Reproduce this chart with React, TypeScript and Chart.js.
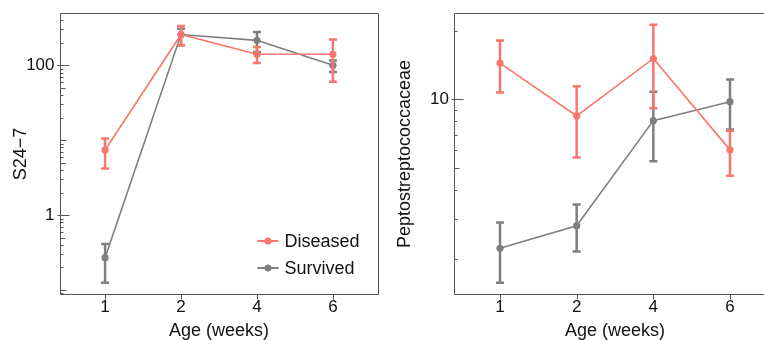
import React, { useEffect, useRef } from 'react';
import { Chart, registerables } from 'chart.js';

Chart.register(...registerables);

// ---- data ----
const weeks = ['1', '2', '4', '6'];
const seriesNames = ['Diseased', 'Survived'];

const s24Diseased = [7.4, 257, 140, 140];
const s24DiseasedLo = [4.2, 185, 107, 60];
const s24DiseasedHi = [10.5, 334, 175, 220];
const s24Survived = [0.27, 257, 215, 100];
const s24SurvivedLo = [0.125, 185, 150, 81.5];
const s24SurvivedHi = [0.41, 308, 278, 116];

const pepDiseased = [14.4, 8.45, 15.1, 6.0];
const pepDiseasedLo = [10.7, 5.55, 9.13, 4.62];
const pepDiseasedHi = [18.1, 11.4, 21.2, 7.28];
const pepSurvived = [2.22, 2.79, 8.06, 9.76];
const pepSurvivedLo = [1.57, 2.15, 5.35, 7.38];
const pepSurvivedHi = [2.88, 3.46, 10.8, 12.2];

const s24TickLabels = [1, 100];
const pepTickLabels = [10];

// ---- style ----
const RED = '#F8766D';
const GRAY = '#7F7F7F';
const AXIS = '#555555';
const FONT = "'Liberation Sans', Arial, Helvetica, sans-serif";

const errorBarPlugin = {
  id: 'errorBars',
  beforeDatasetDraw(chart: any, args: any) {
    const ds = chart.data.datasets[args.index];
    if (!ds.errLo) return;
    const { ctx } = chart;
    const x = chart.scales.x;
    const y = chart.scales.y;
    ctx.save();
    ctx.strokeStyle = ds.borderColor;
    ctx.lineWidth = 2.5;
    ds.data.forEach((pt: any, i: number) => {
      const px = x.getPixelForValue(pt.x);
      const y1 = y.getPixelForValue(ds.errLo[i]);
      const y2 = y.getPixelForValue(ds.errHi[i]);
      ctx.beginPath();
      ctx.moveTo(px, y1);
      ctx.lineTo(px, y2);
      ctx.moveTo(px - 4, y1);
      ctx.lineTo(px + 4, y1);
      ctx.moveTo(px - 4, y2);
      ctx.lineTo(px + 4, y2);
      ctx.stroke();
    });
    ctx.restore();
  },
};

const axesPlugin = {
  id: 'axesBox',
  afterDraw(chart: any) {
    const { ctx, chartArea } = chart;
    const { left, right, top, bottom } = chartArea;
    const x = chart.scales.x;
    const y = chart.scales.y;
    const labeled: number[] = chart.options.plugins.axesBox.labeled;
    ctx.save();
    ctx.strokeStyle = AXIS;
    ctx.lineWidth = 1;
    const L = Math.round(left) + 0.5;
    const R = Math.round(right) - 0.5;
    const T = Math.round(top) + 0.5;
    const B = Math.round(bottom) - 0.5;
    ctx.beginPath();
    ctx.rect(L, T, R - L, B - T);
    ctx.stroke();
    // y ticks
    const min = y.min;
    const max = y.max;
    const d0 = Math.floor(Math.log10(min));
    const d1 = Math.ceil(Math.log10(max));
    ctx.beginPath();
    for (let d = d0; d <= d1; d++) {
      for (let m = 1; m <= 9; m++) {
        const v = m * Math.pow(10, d);
        if (v < min || v > max) continue;
        const py = Math.round(y.getPixelForValue(v)) + 0.5;
        let a = 0;
        let b = 3;
        if (labeled.some((l) => Math.abs(l - v) < 1e-9 * v)) {
          a = -3;
          b = 9;
        } else if (m === 1) {
          b = 6;
        } else if (m === 5) {
          b = 5;
        }
        ctx.moveTo(L + a, py);
        ctx.lineTo(L + b, py);
      }
    }
    // x ticks
    weeks.forEach((_, i) => {
      const px = Math.round(x.getPixelForValue(i)) + 0.5;
      ctx.moveTo(px, B);
      ctx.lineTo(px, B + 5);
    });
    ctx.stroke();
    ctx.restore();
  },
};

const legendPlugin = {
  id: 'insideLegend',
  afterDraw(chart: any) {
    const opts = chart.options.plugins.insideLegend;
    if (!opts || !opts.show) return;
    const { ctx, chartArea } = chart;
    const colors = [RED, GRAY];
    ctx.save();
    ctx.font = `18px ${FONT}`;
    ctx.textBaseline = 'middle';
    ctx.textAlign = 'left';
    seriesNames.forEach((name, i) => {
      const cy = chartArea.bottom - 54 + i * 27;
      const x0 = chartArea.right - 121;
      const x1 = chartArea.right - 100;
      ctx.strokeStyle = colors[i];
      ctx.lineWidth = 2;
      ctx.beginPath();
      ctx.moveTo(x0, cy);
      ctx.lineTo(x1, cy);
      ctx.stroke();
      ctx.fillStyle = colors[i];
      ctx.beginPath();
      ctx.arc((x0 + x1) / 2, cy, 3.5, 0, Math.PI * 2);
      ctx.fill();
      ctx.fillStyle = '#111';
      ctx.fillText(name, chartArea.right - 94, cy + 1);
    });
    ctx.restore();
  },
};

function toPoints(vals: number[]) {
  return vals.map((v, i) => ({ x: i, y: v }));
}

function makeConfig(p: any) {
  const mk = (label: string, color: string, vals: number[], lo: number[], hi: number[]) => ({
    label,
    data: toPoints(vals),
    errLo: lo,
    errHi: hi,
    borderColor: color,
    backgroundColor: color,
    borderWidth: 1.6,
    pointRadius: 3.6,
    pointBorderWidth: 0,
    pointBackgroundColor: color,
    tension: 0,
  });
  return {
    type: 'line',
    data: {
      datasets: [
        mk(seriesNames[0], RED, p.d, p.dLo, p.dHi),
        mk(seriesNames[1], GRAY, p.s, p.sLo, p.sHi),
      ],
    },
    plugins: [errorBarPlugin, axesPlugin, legendPlugin],
    options: {
      animation: false,
      responsive: false,
      devicePixelRatio: 1,
      layout: { padding: { left: 0, right: p.padRight, top: 13, bottom: 0 } },
      plugins: {
        legend: { display: false },
        tooltip: { enabled: false },
        axesBox: { labeled: p.labeled },
        insideLegend: { show: p.legend },
      },
      scales: {
        x: {
          type: 'linear',
          min: -0.6,
          max: 3.6,
          afterBuildTicks: (axis: any) => {
            axis.ticks = weeks.map((_, i) => ({ value: i }));
          },
          afterFit: (axis: any) => {
            axis.height = 45;
            axis.paddingLeft = 0;
            axis.paddingRight = 0;
          },
          grid: { display: false, drawTicks: false },
          border: { display: false },
          ticks: {
            autoSkip: false,
            maxRotation: 0,
            padding: 2,
            color: '#111',
            font: { family: FONT, size: 17 },
            callback: (v: any) => weeks[Math.round(v)],
          },
          title: {
            display: true,
            text: 'Age (weeks)',
            color: '#111',
            font: { family: FONT, size: 18, lineHeight: 1 },
            padding: { top: 0, bottom: 0 },
          },
        },
        y: {
          type: 'logarithmic',
          min: p.yMin,
          max: p.yMax,
          afterBuildTicks: (axis: any) => {
            axis.ticks = p.labeled.map((v: number) => ({ value: v }));
          },
          afterFit: (axis: any) => {
            axis.width = p.yWidth;
            axis.paddingTop = 0;
            axis.paddingBottom = 0;
          },
          grid: { display: false, drawTicks: false },
          border: { display: false },
          ticks: {
            padding: 5,
            color: '#111',
            font: { family: FONT, size: 17 },
            callback: (v: any) => String(v),
          },
          title: {
            display: true,
            text: p.title,
            color: '#111',
            font: { family: FONT, size: 18, lineHeight: 1 },
            padding: { top: p.titlePad, bottom: 0 },
          },
        },
      },
    },
  };
}

function Panel({ cfg, left, width }: { cfg: any; left: number; width: number }) {
  const ref = useRef<HTMLCanvasElement | null>(null);
  useEffect(() => {
    const chart = new Chart(ref.current as HTMLCanvasElement, makeConfig(cfg) as any);
    return () => chart.destroy();
  }, []);
  return (
    <div style={{ position: 'absolute', left, top: 0, width, height: 340 }}>
      <canvas ref={ref} width={width} height={340} style={{ display: 'block', width, height: 340 }} />
    </div>
  );
}

const leftPanel = {
  d: s24Diseased, dLo: s24DiseasedLo, dHi: s24DiseasedHi,
  s: s24Survived, sLo: s24SurvivedLo, sHi: s24SurvivedHi,
  yMin: 0.0858, yMax: 498, labeled: s24TickLabels,
  title: 'S24−7', titlePad: 12, yWidth: 59.5, padRight: 11.5, legend: true,
};

const rightPanel = {
  d: pepDiseased, dLo: pepDiseasedLo, dHi: pepDiseasedHi,
  s: pepSurvived, sLo: pepSurvivedLo, sHi: pepSurvivedHi,
  yMin: 1.386, yMax: 23.9, labeled: pepTickLabels,
  title: 'Peptostreptococcaceae', titlePad: 6, yWidth: 64, padRight: 14, legend: false,
};

export default function App() {
  return (
    <div
      style={{
        position: 'fixed',
        left: 0,
        top: 0,
        width: 764,
        height: 340,
        overflow: 'hidden',
        background: '#fff',
      }}
    >
      <Panel cfg={leftPanel} left={0} width={390} />
      <Panel cfg={rightPanel} left={390} width={400} />
    </div>
  );
}
